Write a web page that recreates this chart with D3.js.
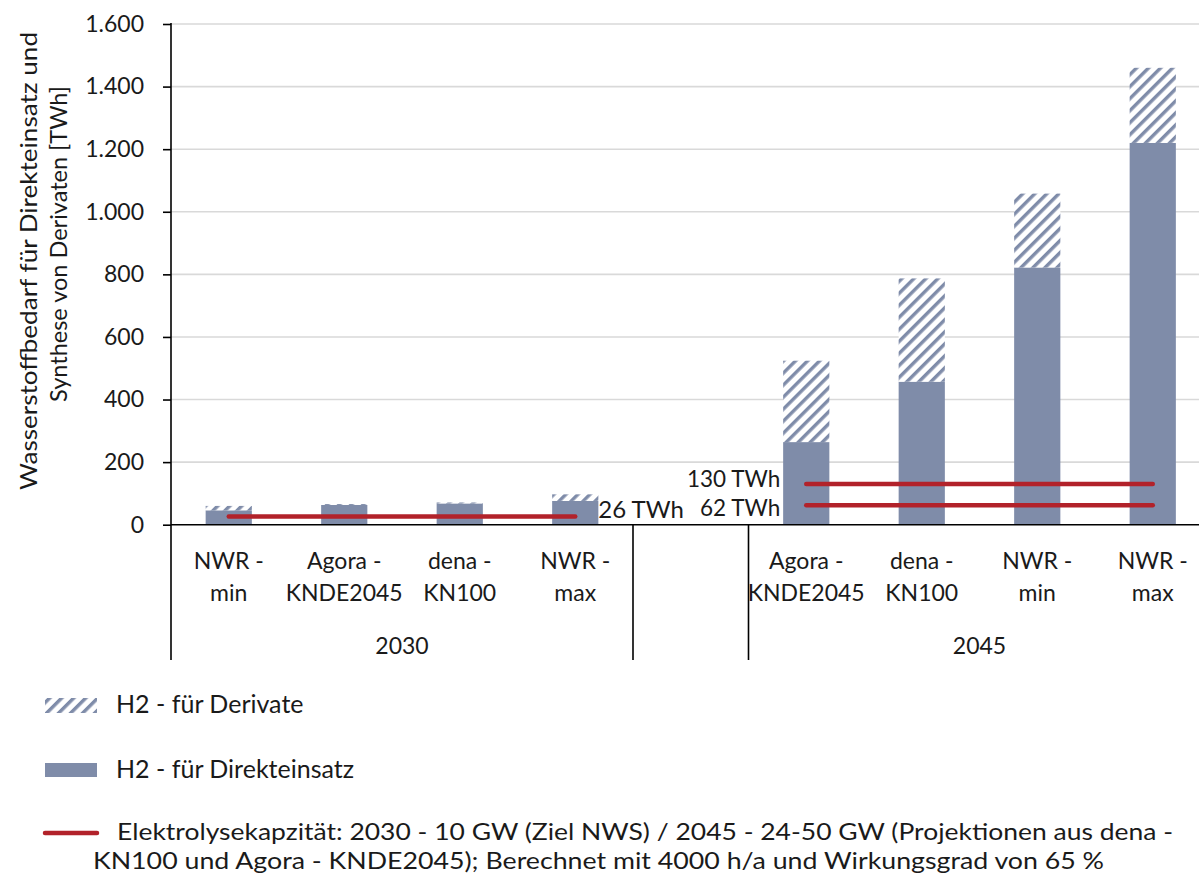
<!DOCTYPE html>
<html><head><meta charset="utf-8">
<script src="https://cdn.jsdelivr.net/npm/d3@7"></script>
<style>html,body{margin:0;padding:0;background:#fff;} svg{display:block;font-family:Lato,sans-serif;}</style>
</head><body><svg id="chart" width="1199" height="882"></svg>
<script>
// ---- data ----
const groups = ["2030", "2045"];
const categories2030 = ["NWR - min", "Agora - KNDE2045", "dena - KN100", "NWR - max"];
const categories2045 = ["Agora - KNDE2045", "dena - KN100", "NWR - min", "NWR - max"];
const direct2030 = [46, 63, 68, 76];
const derivate2030 = [14, 3, 3, 21];
const direct2045 = [264, 457, 822, 1220];
const derivate2045 = [260, 330, 236, 240];
const capacity2030 = [26];
const capacity2045 = [130, 62];
const capacityLabels2030 = ["26 TWh"];
const capacityLabels2045 = ["130 TWh", "62 TWh"];
const yTicks = [0, 200, 400, 600, 800, 1000, 1200, 1400, 1600];
const seriesNames = ["H2 - für Derivate", "H2 - für Direkteinsatz"];
const capacityLegend = ["Elektrolysekapzität: 2030 - 10 GW (Ziel NWS) / 2045 - 24-50 GW (Projektionen aus dena -",
  "KN100 und Agora - KNDE2045); Berechnet mit 4000 h/a und Wirkungsgrad von 65 %"];
const yTitle = ["Wasserstoffbedarf für Direkteinsatz und", "Synthese von Derivaten [TWh]"];

// ---- styles ----
const BAR = "#7f8ca9", RED = "#b2222a", TXT = "#1a1a1a", GRID = "#d9d9d9";
const FS_TICK = 23, FS_CAT = 23, FS_CAP = 22.5, FS_LEG = 25, FS_LEG2 = 23.5, FS_TITLE = 24;
const FONT = "Lato, sans-serif";

const svg = d3.select("#chart");
const defs = svg.append("defs");
const pat = defs.append("pattern").attr("id", "hatch").attr("patternUnits", "userSpaceOnUse")
  .attr("width", 8.5).attr("height", 8.5).attr("patternTransform", "rotate(45)");
pat.append("rect").attr("width", 8.5).attr("height", 8.5).attr("fill", "#fff");
pat.append("rect").attr("width", 3.4).attr("height", 8.5).attr("fill", BAR);

// slots
const rows = [];
categories2030.forEach((c, i) => rows.push({key: "2030|" + c, group: "2030", cat: c, direct: direct2030[i], deriv: derivate2030[i]}));
rows.push({key: "gap", group: null});
categories2045.forEach((c, i) => rows.push({key: "2045|" + c, group: "2045", cat: c, direct: direct2045[i], deriv: derivate2045[i]}));

const x0 = 171, step = 115.5;
const x = d3.scaleBand().domain(rows.map(r => r.key)).range([x0, x0 + rows.length * step]).padding(0);
const y = d3.scaleLinear().domain([0, 1600]).range([524.7, 24]);
const bw = x.bandwidth(), barW = bw * 0.4;
const cx = k => x(k) + bw / 2;
const axisBottomY = 660;

// gridlines
svg.append("g").selectAll("line").data(yTicks.filter(t => t > 0)).join("line")
  .attr("x1", x0).attr("x2", 1199).attr("y1", d => y(d)).attr("y2", d => y(d))
  .attr("stroke", GRID).attr("stroke-width", 1.6);

// bars
const bars = rows.filter(r => r.group);
svg.append("g").selectAll("rect").data(bars).join("rect")
  .attr("x", d => cx(d.key) - barW / 2).attr("width", barW)
  .attr("y", d => y(d.direct)).attr("height", d => y(0) - y(d.direct)).attr("fill", BAR);
svg.append("g").selectAll("rect").data(bars).join("rect")
  .attr("x", d => cx(d.key) - barW / 2).attr("width", barW)
  .attr("y", d => y(d.direct + d.deriv)).attr("height", d => y(d.direct) - y(d.direct + d.deriv)).attr("fill", "url(#hatch)");

// capacity lines
const capGroups = [
  {group: "2030", vals: capacity2030, labels: capacityLabels2030},
  {group: "2045", vals: capacity2045, labels: capacityLabels2045}
];
capGroups.forEach(g => {
  const keys = bars.filter(r => r.group === g.group).map(r => r.key);
  const xa = cx(keys[0]), xb = cx(keys[keys.length - 1]);
  g.vals.forEach((v, i) => {
    svg.append("line").attr("x1", xa).attr("x2", xb).attr("y1", y(v)).attr("y2", y(v))
      .attr("stroke", RED).attr("stroke-width", 4.5).attr("stroke-linecap", "round");
    const t = svg.append("text").attr("fill", TXT).attr("font-size", FS_CAP).text(g.labels[i]);
    if (g.group === "2030") t.attr("x", xb + 23).attr("y", y(v) + 1).attr("font-size", FS_CAT + 1);
    else t.attr("x", xa - 26).attr("y", y(v) + (i === 0 ? 3 : 11)).attr("text-anchor", "end");
  });
});

// y axis
const fmt = d3.formatLocale({decimal: ",", thousands: ".", grouping: [3], currency: ["", "€"]}).format(",d");
const ya = svg.append("g").attr("transform", `translate(${x0},0)`)
  .call(d3.axisLeft(y).tickValues(yTicks).tickSize(8).tickPadding(19).tickFormat(fmt));
ya.select(".domain").remove();
ya.selectAll(".tick line").attr("stroke", "#000").attr("stroke-width", 1.6);
ya.selectAll(".tick text").attr("fill", TXT).attr("font-size", FS_TICK).attr("font-family", FONT);

// axis lines
svg.append("line").attr("x1", x0).attr("x2", x0).attr("y1", y(1600) - 1).attr("y2", axisBottomY).attr("stroke", "#000").attr("stroke-width", 1.6);
svg.append("line").attr("x1", x0).attr("x2", 1199).attr("y1", y(0)).attr("y2", y(0)).attr("stroke", "#000").attr("stroke-width", 1.6);
[x("gap"), x("gap") + bw].forEach(xx => {
  svg.append("line").attr("x1", xx).attr("x2", xx).attr("y1", y(0)).attr("y2", axisBottomY).attr("stroke", "#000").attr("stroke-width", 1.6);
});

// category labels
const catG = svg.append("g").attr("fill", TXT).attr("font-size", FS_CAT).attr("text-anchor", "middle");
bars.forEach(r => {
  const parts = r.cat.split(" - ");
  catG.append("text").attr("x", cx(r.key)).attr("y", 569).text(parts[0] + " -");
  catG.append("text").attr("x", cx(r.key)).attr("y", 601).text(parts[1]);
});
groups.forEach(g => {
  const keys = bars.filter(r => r.group === g).map(r => r.key);
  const mid = (x(keys[0]) + x(keys[keys.length - 1]) + bw) / 2;
  catG.append("text").attr("x", mid).attr("y", 654).text(g);
});

// y title
svg.append("text").attr("transform", "translate(37,261) rotate(-90)").attr("text-anchor", "middle")
  .attr("fill", TXT).attr("font-size", FS_TITLE).attr("textLength", 458).attr("lengthAdjust", "spacingAndGlyphs").text(yTitle[0]);
svg.append("text").attr("transform", "translate(67,244) rotate(-90)").attr("text-anchor", "middle")
  .attr("fill", TXT).attr("font-size", FS_TITLE).attr("textLength", 316).attr("lengthAdjust", "spacingAndGlyphs").text(yTitle[1]);

// legend
const lg = svg.append("g").attr("fill", TXT);
lg.append("rect").attr("x", 45).attr("y", 698).attr("width", 52).attr("height", 15).attr("fill", "url(#hatch)");
lg.append("text").attr("x", 116).attr("y", 713).attr("font-size", FS_LEG).text(seriesNames[0]);
lg.append("rect").attr("x", 45).attr("y", 763).attr("width", 52).attr("height", 14).attr("fill", BAR);
lg.append("text").attr("x", 116).attr("y", 778).attr("font-size", FS_LEG).text(seriesNames[1]);
lg.append("line").attr("x1", 45).attr("x2", 97).attr("y1", 833).attr("y2", 833)
  .attr("stroke", RED).attr("stroke-width", 4.5).attr("stroke-linecap", "round");
lg.append("text").attr("x", 117).attr("y", 840).attr("font-size", FS_LEG2).attr("textLength", 1056).attr("lengthAdjust", "spacingAndGlyphs").text(capacityLegend[0]);
lg.append("text").attr("x", 93).attr("y", 869).attr("font-size", FS_LEG2).attr("textLength", 1011).attr("lengthAdjust", "spacingAndGlyphs").text(capacityLegend[1]);
</script></body></html>
